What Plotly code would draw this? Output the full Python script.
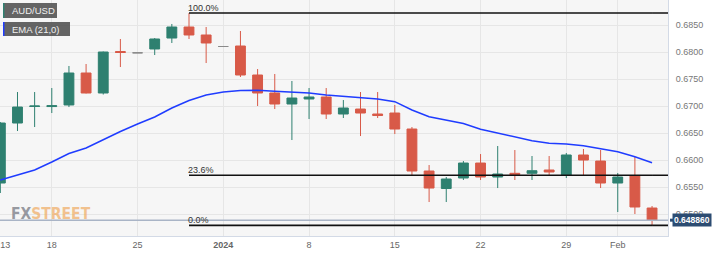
import plotly.graph_objects as go

dates = ["2023-12-13","2023-12-14","2023-12-15","2023-12-18","2023-12-19","2023-12-20","2023-12-21","2023-12-22",
         "2023-12-25","2023-12-26","2023-12-27","2023-12-28","2023-12-29",
         "2024-01-01","2024-01-02","2024-01-03","2024-01-04","2024-01-05",
         "2024-01-08","2024-01-09","2024-01-10","2024-01-11","2024-01-12",
         "2024-01-15","2024-01-16","2024-01-17","2024-01-18","2024-01-19",
         "2024-01-22","2024-01-23","2024-01-24","2024-01-25","2024-01-26",
         "2024-01-29","2024-01-30","2024-01-31","2024-02-01","2024-02-02","2024-02-05"]

opens  = [0.65574,0.66685,0.66991,0.66990,0.67019,0.67611,0.67241,0.68009,
          0.67985,0.68056,0.68259,0.68463,0.68315,
          0.68102,0.68111,0.67574,0.67241,0.67037,
          0.67130,0.67167,0.66852,0.66944,0.66852,
          0.66870,0.66574,0.65796,0.65472,0.65667,
          0.65944,0.65685,0.65754,0.65754,0.65815,
          0.65722,0.66093,0.65981,0.65574,0.65704,0.65111]
highs  = [0.66704,0.67259,0.67259,0.67333,0.67741,0.67778,0.68009,0.68241,
          0.67985,0.68259,0.68519,0.68722,0.68463,
          0.68102,0.68389,0.67685,0.67593,0.67463,
          0.67333,0.67333,0.67111,0.67259,0.67259,
          0.67019,0.66611,0.65907,0.65685,0.65981,
          0.66111,0.66259,0.66185,0.66074,0.66074,
          0.66130,0.66204,0.66185,0.65759,0.66056,0.65148]
lows   = [0.65389,0.66537,0.66611,0.66870,0.66981,0.67232,0.67213,0.67722,
          0.67985,0.67944,0.68167,0.68241,0.67796,
          0.68102,0.67537,0.67000,0.66944,0.66370,
          0.66759,0.66759,0.66778,0.66444,0.66778,
          0.66481,0.65722,0.65222,0.65222,0.65630,
          0.65630,0.65481,0.65630,0.65630,0.65722,
          0.65667,0.65722,0.65481,0.65037,0.65000,0.64790]
closes = [0.66685,0.66981,0.67000,0.67005,0.67611,0.67241,0.68000,0.67991,
          0.67985,0.68241,0.68463,0.68315,0.68167,
          0.68102,0.67574,0.67241,0.67037,0.67148,
          0.67167,0.66852,0.66963,0.66870,0.66824,
          0.66574,0.65796,0.65481,0.65648,0.65944,
          0.65685,0.65741,0.65728,0.65802,0.65778,
          0.66093,0.66000,0.65574,0.65685,0.65130,0.64886]
ema21  = [0.65630,0.65722,0.65815,0.65963,0.66120,0.66222,0.66380,0.66528,
          0.66667,0.66796,0.66963,0.67102,0.67204,
          0.67259,0.67287,0.67291,0.67272,0.67259,
          0.67241,0.67204,0.67176,0.67154,0.67130,
          0.67080,0.66926,0.66802,0.66732,0.66676,
          0.66569,0.66494,0.66420,0.66357,0.66309,
          0.66296,0.66265,0.66204,0.66154,0.66061,0.65950]

tick_dates = ["2023-12-13","2023-12-18","2023-12-25","2024-01-01","2024-01-08",
              "2024-01-15","2024-01-22","2024-01-29","2024-02-01"]
tick_text = ["\u00a0\u00a0\u00a0\u00a013","18","25","<b>2024</b>","8","15","22","29","Feb"]

fib_labels = ["100.0%","23.6%","0.0%"]
fib_ratios = [1.0, 0.236, 0.0]
last_price = 0.64886

GREEN = "#2e8070"
RED = "#d85a48"
GRAY = "#8a8a8a"

flat = [o == h == l == c for o, h, l, c in zip(opens, highs, lows, closes)]
m_idx = [i for i in range(len(dates)) if not flat[i]]
f_idx = [i for i in range(len(dates)) if flat[i]]

fig = go.Figure()
fig.add_trace(go.Candlestick(
    x=[dates[i] for i in m_idx], open=[opens[i] for i in m_idx], high=[highs[i] for i in m_idx],
    low=[lows[i] for i in m_idx], close=[closes[i] for i in m_idx],
    increasing=dict(line=dict(color=GREEN, width=1), fillcolor=GREEN),
    decreasing=dict(line=dict(color=RED, width=1), fillcolor=RED),
    whiskerwidth=0, showlegend=False, hoverinfo="skip"))
fig.add_trace(go.Candlestick(
    x=[dates[i] for i in f_idx], open=[opens[i] for i in f_idx], high=[highs[i] for i in f_idx],
    low=[lows[i] for i in f_idx], close=[closes[i] for i in f_idx],
    increasing=dict(line=dict(color=GRAY, width=1), fillcolor=GRAY),
    decreasing=dict(line=dict(color=GRAY, width=1), fillcolor=GRAY),
    whiskerwidth=0, showlegend=False, hoverinfo="skip"))
fig.add_trace(go.Scatter(x=dates, y=ema21, mode="lines", line=dict(color="#1f3cff", width=1.5),
                         showlegend=False, hoverinfo="skip"))

hi_i = max(range(len(highs)), key=lambda i: highs[i])
lo_val = min(lows)
hi_val = highs[hi_i]
shapes = []
annotations = []
# current price line
shapes.append(dict(type="line", xref="paper", x0=0, x1=1, yref="y", y0=last_price, y1=last_price,
                   line=dict(color="#a9b4c6", width=1.5), layer="above"))
for lab, r in zip(fib_labels, fib_ratios):
    lvl = lo_val + r * (hi_val - lo_val)
    shapes.append(dict(type="line", xref="x", x0=dates[hi_i], yref="y", y0=lvl, y1=lvl,
                       x1=dates[-1], line=dict(color="#111111", width=1.6), layer="above"))
    shapes.append(dict(type="line", xref="x", x0=dates[-1], yref="y", y0=lvl, y1=lvl,
                       x1=len(dates) + 1, line=dict(color="#111111", width=1.6), layer="above"))
    annotations.append(dict(x=dates[hi_i], y=lvl, xref="x", yref="y", text=lab, showarrow=False,
                            xanchor="left", yanchor="bottom", xshift=-3, yshift=-2,
                            font=dict(size=9, color="#333333", family="Liberation Sans, Arial")))

W_PLOT, H_PLOT = 668, 236
def px(x): return x / W_PLOT
def py(y): return 1 - y / H_PLOT

# legend boxes
for (y0, y1, w, col, txt) in [(3, 18, 54, GREEN, "AUD/USD"), (22, 36, 67, "#1f3cff", "EMA (21,0)")]:
    shapes.append(dict(type="rect", xref="paper", yref="paper", x0=px(3), x1=px(3 + w), y0=py(y1), y1=py(y0),
                       fillcolor="rgba(80,80,80,0.88)", line=dict(width=0), layer="above"))
    shapes.append(dict(type="rect", xref="paper", yref="paper", x0=px(3), x1=px(4.5), y0=py(y1), y1=py(y0),
                       fillcolor=col, line=dict(width=0), layer="above"))
    annotations.append(dict(x=px(10), y=py((y0 + y1) / 2), xref="paper", yref="paper", text=txt,
                            showarrow=False, xanchor="left", yanchor="middle",
                            font=dict(size=9.5, color="#f0f0f0", family="Liberation Sans, Arial")))

# watermark
annotations.append(dict(x=px(9), y=py(214), xref="paper", yref="paper",
                        text="<b><span style='font-stretch:condensed;color:rgba(120,122,132,0.75)'>FX</span><span style='font-stretch:condensed;color:rgba(240,170,95,0.7)'>STREET</span></b>",
                        showarrow=False, xanchor="left", yanchor="middle",
                        font=dict(size=15.5, family="DejaVu Sans Condensed, DejaVu Sans, sans-serif")))

# last price tag
annotations.append(dict(x=1, y=last_price, xref="paper", yref="y", text="<b>0.648860</b>", showarrow=False,
                        xanchor="left", yanchor="middle", xshift=4, bgcolor="#2c4c72", borderpad=1,
                        font=dict(size=8.5, color="#ffffff", family="Liberation Sans, Arial")))
shapes.append(dict(type="line", xref="paper", yref="y", x0=px(670), x1=px(673),
                   y0=last_price, y1=last_price, line=dict(color="#2c4c72", width=3)))

fig.update_layout(
    width=720, height=254, margin=dict(l=0, r=52, t=0, b=18),
    paper_bgcolor="#ffffff", plot_bgcolor="#f6f6f6",
    boxgap=0.18, shapes=shapes, annotations=annotations, showlegend=False,
    font=dict(family="Liberation Sans, Arial", size=9, color="#666666"),
    xaxis=dict(type="category", categoryorder="array", categoryarray=dates,
               range=[-0.02, 38.93], tickmode="array", tickvals=tick_dates, ticktext=tick_text,
               showgrid=True, gridcolor="#e6e6e6", gridwidth=1, showline=True, mirror=True,
               linecolor="#d3dae6", linewidth=1, ticks="", rangeslider=dict(visible=False),
               tickfont=dict(size=9, color="#666666"), automargin=False, fixedrange=True),
    yaxis=dict(side="right", range=[0.64593, 0.68963], dtick=0.005, tick0=0.65, tickformat=".4f",
               showgrid=True, gridcolor="#e6e6e6", gridwidth=1, showline=True, mirror=True,
               linecolor="#d3dae6", linewidth=1, ticks="", ticklabelstandoff=5, zeroline=False,
               tickfont=dict(size=9, color="#777777"), automargin=False, fixedrange=True),
)

fig.write_html("out.html")
